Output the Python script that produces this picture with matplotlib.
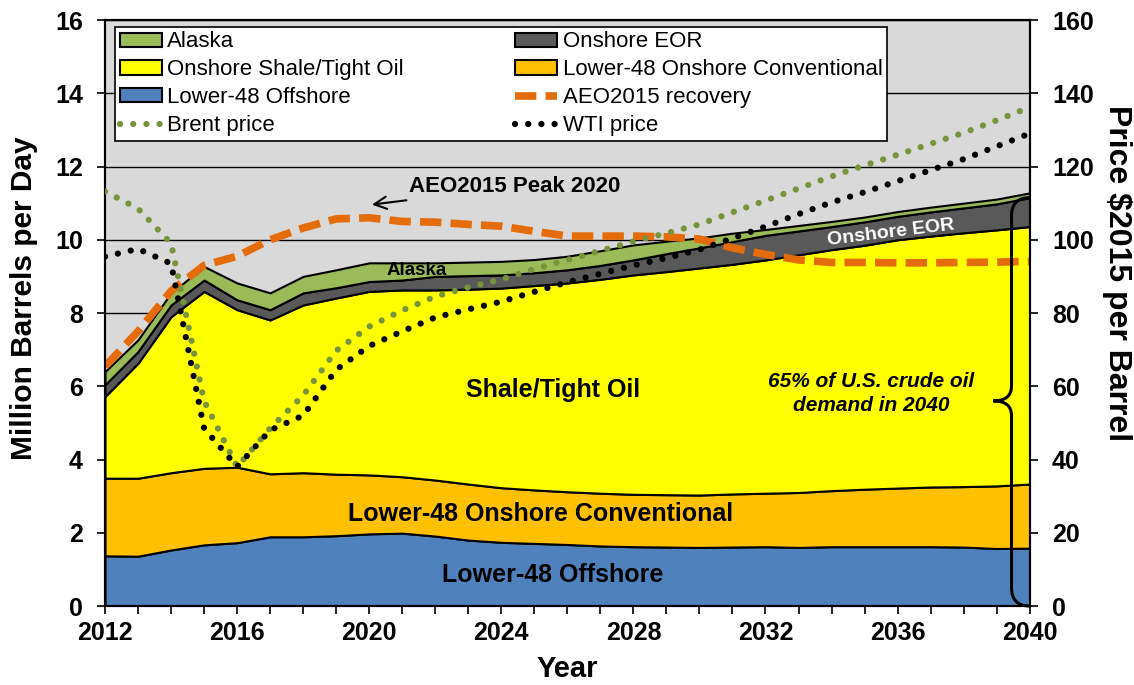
import matplotlib
matplotlib.use("Agg")
import matplotlib.pyplot as plt
from matplotlib.path import Path
from matplotlib.patches import PathPatch
import numpy as np

plt.rcParams['font.family'] = ['Liberation Sans', 'DejaVu Sans']
plt.rcParams['font.weight'] = 'bold'

years = list(range(2012, 2041))

offshore = [1.37, 1.36, 1.53, 1.67, 1.73, 1.89, 1.89, 1.92, 1.97, 1.99, 1.91, 1.80, 1.74, 1.71, 1.68,
            1.64, 1.62, 1.61, 1.60, 1.61, 1.62, 1.60, 1.62, 1.62, 1.62, 1.62, 1.61, 1.57, 1.58]
conventional = [2.12, 2.13, 2.11, 2.09, 2.06, 1.72, 1.75, 1.68, 1.61, 1.54, 1.53, 1.53, 1.49, 1.46, 1.44,
                1.44, 1.43, 1.43, 1.43, 1.45, 1.46, 1.50, 1.53, 1.57, 1.60, 1.63, 1.65, 1.71, 1.75]
shale = [2.23, 3.14, 4.26, 4.83, 4.30, 4.20, 4.58, 4.81, 5.01, 5.10, 5.19, 5.32, 5.45, 5.58, 5.70,
         5.84, 5.99, 6.09, 6.20, 6.27, 6.37, 6.49, 6.58, 6.66, 6.78, 6.85, 6.93, 6.99, 7.03]
eor = [0.32, 0.32, 0.32, 0.31, 0.27, 0.28, 0.33, 0.28, 0.27, 0.27, 0.37, 0.37, 0.36, 0.35, 0.36,
       0.38, 0.41, 0.49, 0.55, 0.62, 0.67, 0.65, 0.63, 0.64, 0.64, 0.66, 0.68, 0.71, 0.79]
alaska = [0.36, 0.32, 0.33, 0.37, 0.46, 0.46, 0.45, 0.49, 0.51, 0.47, 0.37, 0.37, 0.37, 0.36, 0.37,
          0.40, 0.41, 0.34, 0.27, 0.23, 0.16, 0.15, 0.14, 0.13, 0.13, 0.13, 0.13, 0.13, 0.13]

aeo2015 = [6.54, 7.5, 8.6, 9.3, 9.55, 10.0, 10.32, 10.57, 10.6, 10.5, 10.48, 10.42, 10.37, 10.23, 10.1,
           10.1, 10.1, 10.08, 10.02, 9.78, 9.6, 9.45, 9.38, 9.38, 9.37, 9.37, 9.38, 9.39, 9.41]
brent = [113.2, 108.5, 99.0, 56.0, 38.0, 48.5, 57.5, 69.7, 76.3, 80.7, 84.5, 87.0, 89.2, 92.0, 94.5,
         97.0, 99.5, 101.8, 104.2, 107.5, 110.7, 114.0, 117.3, 120.3, 123.2, 126.2, 129.2, 132.6, 136.2]
wti = [95.4, 97.5, 93.5, 48.5, 38.0, 48.0, 52.0, 64.5, 71.0, 75.0, 78.8, 81.0, 83.1, 85.8, 88.4,
       90.7, 93.0, 95.0, 97.3, 100.4, 103.6, 107.0, 110.2, 113.0, 116.0, 119.0, 122.0, 125.5, 129.0]

xticks = [2012, 2016, 2020, 2024, 2028, 2032, 2036, 2040]

c_alaska = '#9BBB59'
c_eor = '#595959'
c_shale = '#FFFF00'
c_conv = '#FFC000'
c_off = '#4F81BD'
c_aeo = '#E46C0A'
c_brent = '#77933C'

fig = plt.figure(figsize=(11.34, 6.85), dpi=100)
ax = fig.add_axes([0.0926, 0.1153, 0.8154, 0.8555])
ax.set_facecolor('#D9D9D9')

x = np.array(years)
stack = [offshore, conventional, shale, eor, alaska]
colors = [c_off, c_conv, c_shale, c_eor, c_alaska]
labels = ['Lower-48 Offshore', 'Lower-48 Onshore Conventional', 'Onshore Shale/Tight Oil',
          'Onshore EOR', 'Alaska']
base = np.zeros(len(years))
handles = {}
for vals, col, lab in zip(stack, colors, labels):
    top = base + np.array(vals)
    h = ax.fill_between(x, base, top, facecolor=col, edgecolor='black', linewidth=1.5,
                        zorder=2, label=lab)
    handles[lab] = h
    base = top

aeo_line, = ax.plot(x, aeo2015, color=c_aeo, lw=5.5, linestyle=(0, (2.8, 1.2)), zorder=4,
                    label='AEO2015 recovery')
handles['AEO2015 recovery'] = aeo_line

ax.set_xlim(2012, 2040)
ax.set_ylim(0, 16)
ax.set_yticks(range(0, 17, 2))
ax.set_xticks(xticks)
ax.set_xticks(years, minor=True)
ax.grid(axis='y', color='black', linewidth=1, zorder=1)
ax.set_axisbelow(True)
ax.tick_params(axis='both', which='major', labelsize=18, direction='out', length=6, width=1.2)
ax.tick_params(axis='y', pad=10)
ax.tick_params(axis='x', which='minor', direction='out', length=6, width=1.2)
ax.tick_params(axis='x', pad=5)
for s in ax.spines.values():
    s.set_linewidth(1.5)
ax.set_ylabel('Million Barrels per Day', fontsize=21.5, fontweight='bold')
ax.yaxis.set_label_coords(-0.072, 0.526)
ax.set_xlabel('Year', fontsize=21, fontweight='bold', va='baseline')
ax.xaxis.set_label_coords(0.5, -0.1215)

ax2 = ax.twinx()
ax2.set_ylim(0, 160)
ax2.set_yticks(range(0, 161, 20))
ax2.tick_params(axis='y', labelsize=18, direction='out', length=6, width=1.2, pad=10)
b_line, = ax2.plot(x, brent, color=c_brent, lw=4.5, linestyle=(0, (0.01, 2.1)),
                   dash_capstyle='round', label='Brent price', zorder=5)
w_line, = ax2.plot(x, wti, color='black', lw=4.5, linestyle=(0, (0.01, 2.1)),
                   dash_capstyle='round', label='WTI price', zorder=5)
ax2.set_ylabel('Price $2015 per Barrel', fontsize=23, fontweight='bold', rotation=270, va='center')
ax2.yaxis.set_label_coords(1.094, 0.568)
for s in ax2.spines.values():
    s.set_linewidth(1.5)

order = [handles['Alaska'], handles['Onshore Shale/Tight Oil'], handles['Lower-48 Offshore'], b_line,
         handles['Onshore EOR'], handles['Lower-48 Onshore Conventional'], aeo_line, w_line]
leg = ax2.legend(order, [h.get_label() for h in order], ncol=2, loc='upper left',
                 bbox_to_anchor=(0.011, 0.988), fontsize=16, frameon=True, fancybox=False,
                 edgecolor='black', facecolor='white', framealpha=1, handlelength=1.9,
                 handleheight=0.6, handletextpad=0.25, labelspacing=0.31, columnspacing=5.0,
                 borderpad=0.2, borderaxespad=0)
leg.get_frame().set_linewidth(1.2)
for t in leg.get_texts():
    t.set_fontweight('normal')
leg.set_zorder(10)

# annotations
ax.annotate('AEO2015 Peak 2020', xy=(2020.0, 10.95), xytext=(2021.2, 11.45),
            fontsize=16, fontweight='bold', va='center', ha='left', zorder=11,
            arrowprops=dict(arrowstyle='->', color='black', lw=1.5, mutation_scale=22))
ax.text(2021.45, 9.15, 'Alaska', fontsize=13.5, fontweight='bold', ha='center', va='center', zorder=6)
ax.text(2035.8, 10.2, 'Onshore EOR', fontsize=14, fontweight='bold', color='white',
        ha='center', va='center', rotation=7, zorder=6)
ax.text(2025.57, 5.9, 'Shale/Tight Oil', fontsize=18, fontweight='bold', ha='center', va='center', zorder=6)
ax.text(2025.2, 2.52, 'Lower-48 Onshore Conventional', fontsize=18, fontweight='bold',
        ha='center', va='center', zorder=6)
ax.text(2025.55, 0.85, 'Lower-48 Offshore', fontsize=18, fontweight='bold', ha='center', va='center', zorder=6)
ax.text(2035.2, 5.8, '65% of U.S. crude oil\ndemand in 2040', fontsize=15, fontweight='bold',
        style='italic', ha='center', va='center', linespacing=1.35, zorder=6)

# curly brace
bx, tipx, ex = 2039.45, 2038.9, 2040.0
ytop, ymid, ybot = 11.15, 5.6, 0.0
verts = [(ex, ytop), (bx, ytop), (bx, ytop - 0.5),
         (bx, ymid + 0.4),
         (bx, ymid), (tipx, ymid),
         (bx, ymid), (bx, ymid - 0.4),
         (bx, ybot + 0.5),
         (bx, ybot), (ex, ybot)]
codes = [Path.MOVETO, Path.CURVE3, Path.CURVE3, Path.LINETO, Path.CURVE3, Path.CURVE3,
         Path.CURVE3, Path.CURVE3, Path.LINETO, Path.CURVE3, Path.CURVE3]
ax.add_patch(PathPatch(Path(verts, codes), facecolor='none', edgecolor='black', lw=2.2,
                       zorder=7, clip_on=False))

fig.savefig('out.png', dpi=100)
